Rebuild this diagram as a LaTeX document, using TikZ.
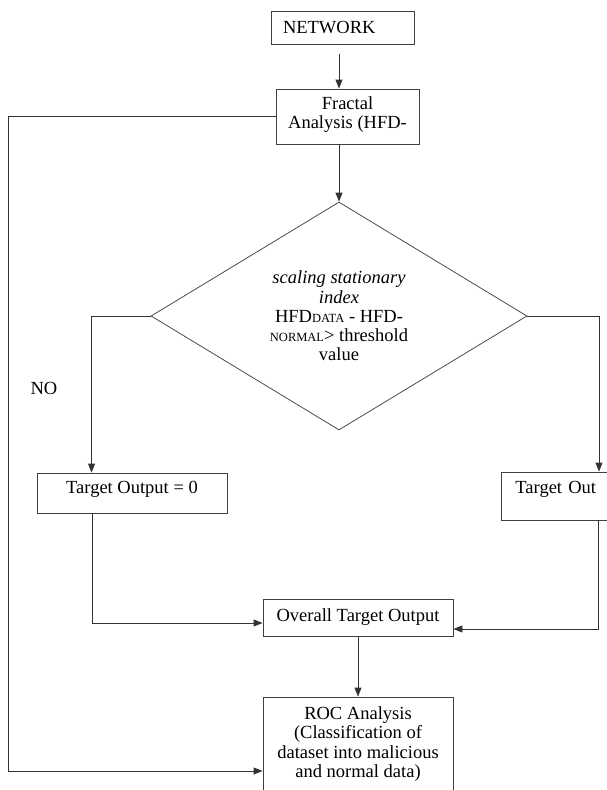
\documentclass[tikz,border=0pt]{standalone}
\usepackage{fontspec}
\setmainfont{Liberation Serif}
\usetikzlibrary{shapes.geometric,arrows.meta,calc}
\begin{document}
\begin{tikzpicture}[x=1pt,y=-1pt,
  every node/.style={font=\fontsize{18.5}{19.3}\selectfont, text=black},
  box/.style={draw=black!75, line width=0.9pt, rectangle, inner sep=0pt, align=center},
  dec/.style={draw=black!70, line width=0.8pt, diamond, aspect=1.65, inner sep=0pt,
    minimum width=376pt, minimum height=228pt, align=center},
  conn/.style={draw=black!80, line width=0.9pt},
  arr/.style={conn, -{Triangle[length=9pt,width=7pt]}}
]
\useasboundingbox[fill=white] (0,0) rectangle (607,790);
\newcommand{\smallcp}[1]{{\fontsize{12.5}{12}\selectfont #1}}

\node[box, minimum width=143pt, minimum height=33pt, text width=119pt, align=left] (net) at (342.5,27.5) {NETWORK};
\node[box, minimum width=143pt, minimum height=55pt, text depth=8pt] (frac) at (347.5,116.5) {Fractal\\Analysis (HFD-};
\node[dec] (dia) at (339,316) {\textit{scaling stationary}\\\textit{index}\\HFD\smallcp{DATA} - HFD-\\\smallcp{NORMAL}> threshold\\value};
\node[box, minimum width=190pt, minimum height=40pt, text depth=12pt] (t0) at (132,493) {Target Output = 0};
\node[box, anchor=west, minimum width=200pt, minimum height=48pt, text width=172pt, align=left, text depth=18pt] (t1) at (501,496) {Target Out};
\node[box, minimum width=190pt, minimum height=37pt] (ov) at (358,617.5) {Overall Target Output};
\node[box, minimum width=190pt, minimum height=100pt, text depth=10pt] (roc) at (358,747) {ROC Analysis\\(Classification of\\dataset into malicious\\and normal data)};
\node (no) at (44,388) {NO};

\coordinate (lft) at (8,116.5);

\draw[arr, shorten <=10pt] (net.south -| dia.north) -- (frac.north -| dia.north);
\draw[arr] (frac.south -| dia.north) -- (dia.north);
\draw[arr] (dia.west) -| ([xshift=55pt]t0.north west);
\draw[arr] (dia.east) -| ([xshift=98pt]t1.north west);
\draw[arr] ([xshift=56pt]t0.south west) |- ([yshift=-5.5pt]ov.west);
\draw[arr] ([xshift=97pt]t1.south west) |- ([yshift=-11.5pt]ov.east);
\draw[arr] (ov.south) -- (roc.north);
\draw[arr] (frac.west) -- (lft) |- ([yshift=-24pt]roc.west);
\end{tikzpicture}
\end{document}
